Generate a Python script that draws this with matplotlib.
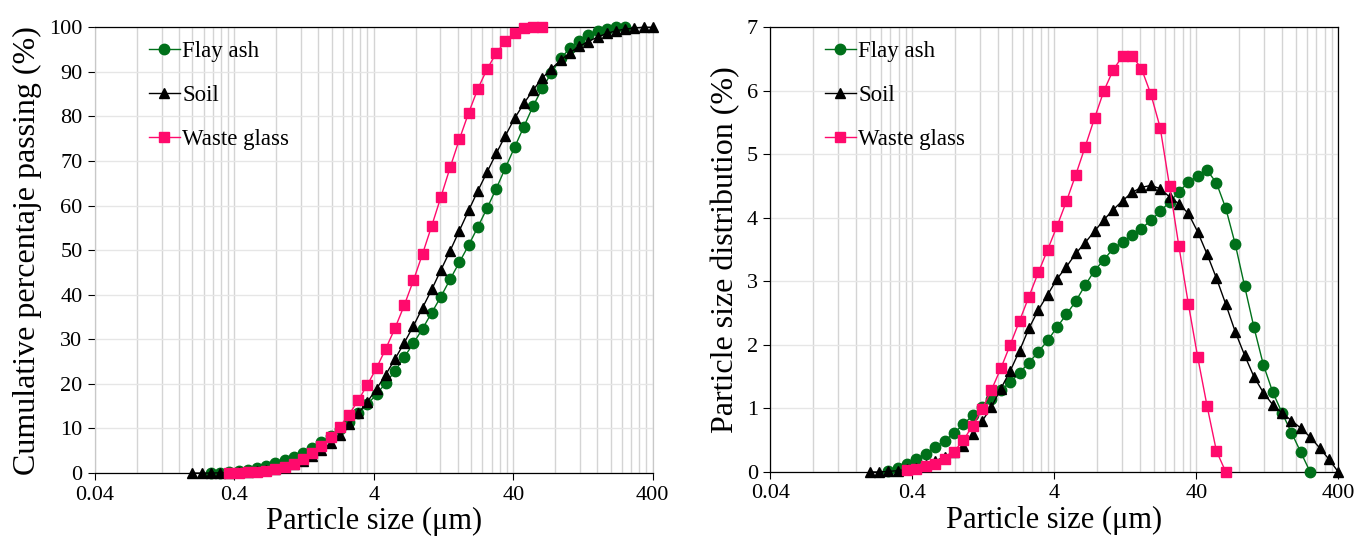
import matplotlib
matplotlib.use("Agg")
import matplotlib.pyplot as plt
from matplotlib.ticker import FixedLocator, NullFormatter

plt.rcParams['font.family'] = ['Liberation Serif', 'DejaVu Serif']

# particle size bins (um)
sizes = [0.200, 0.233, 0.271, 0.316, 0.367, 0.428, 0.498, 0.580, 0.675, 0.786,
         0.915, 1.065, 1.240, 1.443, 1.680, 1.956, 2.277, 2.651, 3.087, 3.593,
         4.183, 4.870, 5.670, 6.601, 7.684, 8.944, 10.41, 12.12, 14.11, 16.43,
         19.13, 22.27, 25.92, 30.18, 35.14, 40.90, 47.62, 55.44, 64.54, 75.14,
         87.47, 101.8, 118.6, 138.0, 160.7, 187.1, 217.8, 253.5, 295.2, 343.6,
         400.0]

ash_sizes = sizes[2:48]
soil_sizes = sizes[0:51]
glass_sizes = sizes[4:39]

ash_cum = [0.0, 0.05, 0.2, 0.4, 0.7, 1.1, 1.6, 2.2, 2.9, 3.7,
           4.6, 5.7, 6.9, 8.3, 9.8, 11.5, 13.4, 15.4, 17.7, 20.2,
           22.9, 26.0, 29.1, 32.4, 36.0, 39.6, 43.5, 47.3, 51.1, 55.2,
           59.4, 63.8, 68.5, 73.1, 77.7, 82.3, 86.3, 89.8, 93.0, 95.3,
           97.0, 98.2, 99.1, 99.7, 100.0, 100.0]
soil_cum = [0, 0, 0, 0.05, 0.1, 0.15, 0.25, 0.4, 0.65, 1.0,
            1.4, 2.0, 2.8, 3.8, 5.1, 6.7, 8.6, 10.9, 13.4, 16.0,
            18.9, 22.1, 25.6, 29.2, 33.0, 37.1, 41.2, 45.6, 49.9, 54.4,
            58.9, 63.3, 67.5, 71.7, 75.7, 79.6, 82.9, 85.9, 88.6, 90.7,
            92.6, 94.3, 95.7, 96.8, 97.8, 98.6, 99.2, 99.6, 99.8, 100.0,
            100.0]
glass_cum = [0.0, 0.05, 0.15, 0.3, 0.5, 0.8, 1.3, 2.1, 3.1, 4.4,
             6.0, 8.0, 10.4, 13.1, 16.3, 19.8, 23.6, 27.9, 32.5, 37.6,
             43.2, 49.2, 55.5, 62.0, 68.6, 74.9, 80.8, 86.2, 90.6, 94.2,
             96.9, 98.8, 99.8, 100.0, 100.0]

ash_dist = [0.02, 0.07, 0.13, 0.21, 0.29, 0.39, 0.49, 0.61, 0.75, 0.89,
            1.02, 1.15, 1.29, 1.41, 1.56, 1.72, 1.89, 2.07, 2.28, 2.48,
            2.69, 2.94, 3.17, 3.34, 3.52, 3.62, 3.73, 3.83, 3.96, 4.10,
            4.25, 4.41, 4.56, 4.66, 4.75, 4.55, 4.15, 3.59, 2.93, 2.28,
            1.69, 1.26, 0.93, 0.62, 0.31, 0.0]
soil_dist = [0, 0, 0.01, 0.02, 0.04, 0.07, 0.11, 0.17, 0.24, 0.32,
             0.41, 0.59, 0.80, 1.02, 1.31, 1.59, 1.91, 2.26, 2.55, 2.79,
             3.04, 3.23, 3.44, 3.61, 3.79, 3.97, 4.13, 4.27, 4.40, 4.48,
             4.51, 4.46, 4.33, 4.22, 4.07, 3.78, 3.43, 3.05, 2.64, 2.21,
             1.84, 1.50, 1.25, 1.06, 0.93, 0.81, 0.69, 0.55, 0.38, 0.20,
             0.0]
glass_dist = [0.03, 0.05, 0.09, 0.13, 0.20, 0.32, 0.50, 0.73, 0.99, 1.29,
              1.63, 2.0, 2.38, 2.76, 3.14, 3.50, 3.87, 4.26, 4.68, 5.12,
              5.57, 6.0, 6.33, 6.55, 6.55, 6.35, 5.95, 5.42, 4.50, 3.55,
              2.65, 1.81, 1.04, 0.33, 0.0]

x_ticks = [0.04, 0.4, 4, 40, 400]
x_labels = ['0.04', '0.4', '4', '40', '400']
minor_x = [0.04 * 10**d * m for d in range(4) for m in range(2, 10)]

GREEN = '#00701a'
PINK = '#ff0a6c'

fig = plt.figure(figsize=(13.67, 5.45), dpi=100)
ax1 = fig.add_axes([0.0695, 0.132, 0.408, 0.818])
ax2 = fig.add_axes([0.5635, 0.134, 0.4155, 0.816])


def style_axis(ax, ymax, ystep, ylabel, left_col, right_col):
    ax.set_xscale('log')
    ax.set_xlim(0.04, 400)
    ax.set_ylim(0, ymax)
    ax.xaxis.set_major_locator(FixedLocator(x_ticks))
    ax.set_xticklabels(x_labels)
    ax.xaxis.set_minor_locator(FixedLocator(minor_x))
    ax.xaxis.set_minor_formatter(NullFormatter())
    ax.set_yticks([ystep * i for i in range(int(round(ymax / ystep)) + 1)])
    ax.grid(True, which='both', axis='x', color='#d4d4d4', lw=1.0)
    ax.grid(True, which='major', axis='y', color='#e6e6e6', lw=1.0)
    ax.set_axisbelow(True)
    ax.tick_params(axis='both', which='major', direction='out', length=5,
                   width=0.8, labelsize=16, pad=4)
    ax.tick_params(axis='x', which='minor', length=0)
    ax.spines['bottom'].set_color('black')
    ax.spines['top'].set_color('black')
    ax.spines['left'].set_color(left_col)
    ax.spines['right'].set_color(right_col)
    for s in ax.spines.values():
        s.set_linewidth(0.9)
    ax.set_xlabel('Particle size (\u03bcm)', fontsize=22, labelpad=2)
    ax.set_ylabel(ylabel, fontsize=23, labelpad=5)


def draw(ax, ash, soil, glass):
    ax.plot(ash_sizes, ash, color=GREEN, lw=1.0, marker='o', ms=7.5,
            label='Flay ash', clip_on=False, zorder=3)
    ax.plot(soil_sizes, soil, color='black', lw=1.0, marker='^', ms=7.5,
            label='Soil', clip_on=False, zorder=4)
    ax.plot(glass_sizes, glass, color=PINK, lw=1.0, marker='s', ms=7.5,
            label='Waste glass', clip_on=False, zorder=5)
    ax.legend(loc='upper left', bbox_to_anchor=(0.072, 1.0), frameon=False,
              fontsize=16.5, handlelength=1.35, handletextpad=0.1,
              labelspacing=1.0, borderaxespad=0.2)


draw(ax1, ash_cum, soil_cum, glass_cum)
style_axis(ax1, 100, 10, 'Cumulative percentaje passing (%)', '#c8c8c8', '#c8c8c8')

draw(ax2, ash_dist, soil_dist, glass_dist)
style_axis(ax2, 7, 1, 'Particle size distribution (%)', 'black', 'black')

fig.savefig('out.png', dpi=100)
